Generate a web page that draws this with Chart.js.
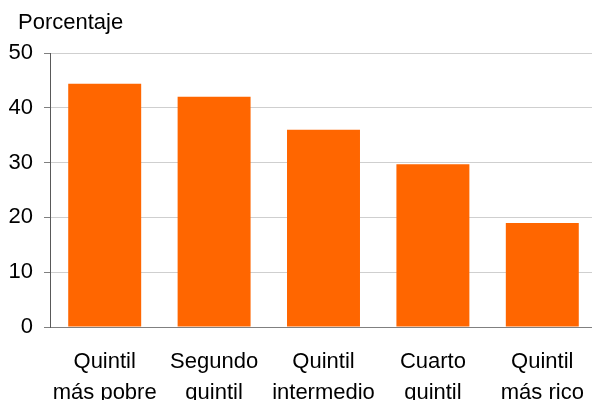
<!DOCTYPE html>
<html>
<head>
  <title>Porcentaje por quintil</title>
  <script src="https://cdn.jsdelivr.net/npm/chart.js"></script>
  <style>
    html, body { margin: 0; background: #fff; overflow: hidden; }
    /* plot runs a few px past the right edge, as in the original */
    #wrap { width: 597px; height: 400px; }
  </style>
</head>
<body>
  <div id="wrap"><canvas id="myChart"></canvas></div>
  <script>
    var quintiles = [
      ['Quintil', 'más pobre'],
      ['Segundo', 'quintil'],
      ['Quintil', 'intermedio'],
      ['Cuarto', 'quintil'],
      ['Quintil', 'más rico']
    ];
    var porcentajes = [44.4, 42.0, 36.0, 29.7, 19.0];
    var yTitle = 'Porcentaje';

    var fontFam = '"Liberation Sans", Arial, sans-serif';

    // axis title drawn in the top-left corner
    var topLabel = {
      id: 'topLabel',
      afterDraw: function(chart) {
        var c = chart.ctx;
        c.save();
        c.font = '22px ' + fontFam;
        c.fillStyle = '#000';
        c.textAlign = 'left';
        c.textBaseline = 'alphabetic';
        c.fillText(yTitle, 18, 29);
        c.restore();
      }
    };

    var ctx = document.getElementById('myChart').getContext('2d');
    var myChart = new Chart(ctx, {
      type: 'bar',
      data: {
        labels: quintiles,
        datasets: [{
          data: porcentajes,
          backgroundColor: '#FF6600',
          borderWidth: 0,
          barPercentage: 0.667,
          categoryPercentage: 1
        }]
      },
      options: {
        responsive: true,
        maintainAspectRatio: false,
        animation: false,
        layout: {
          padding: { top: 53, left: 9, right: 0, bottom: 0 }
        },
        plugins: {
          legend: { display: false },
          tooltip: { enabled: false }
        },
        scales: {
          x: {
            grid: { display: false },
            border: { display: true, color: '#808080', width: 1 },
            ticks: {
              color: '#000',
              font: { family: fontFam, size: 22, lineHeight: 1.41 },
              padding: 11,
              maxRotation: 0,
              autoSkip: false
            },
            afterFit: function(scale) { scale.height = 73; }
          },
          y: {
            min: 0,
            max: 50,
            grid: {
              color: '#cfcfcf',
              lineWidth: 1,
              drawTicks: true,
              tickLength: 6,
              tickColor: '#808080'
            },
            border: { display: true, color: '#595959', width: 1 },
            ticks: {
              stepSize: 10,
              color: '#000',
              padding: 11,
              font: { family: fontFam, size: 22 }
            },
            afterFit: function(scale) { scale.width = 41; }
          }
        }
      },
      plugins: [topLabel]
    });
  </script>
</body>
</html>
